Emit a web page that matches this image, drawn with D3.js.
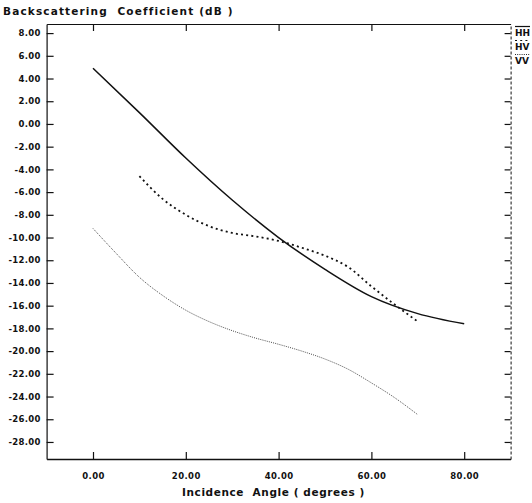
<!DOCTYPE html>
<html>
<head>
<meta charset="utf-8">
<script src="https://cdn.jsdelivr.net/npm/d3@7"></script>
<style>
  body { margin: 0; background: #fff; }
  svg text { font-family: "DejaVu Sans", "Liberation Sans", Arial, sans-serif; font-weight: bold; fill: #111; }
</style>
</head>
<body>
<div class="plot"></div>
<script>
// incidence angles (degrees) and backscattering values (dB)
const hhAngle = [0, 10, 20, 30, 40, 50, 60, 70, 80];
const hhValue = [4.9, 1.0, -3.0, -6.7, -10.0, -12.8, -15.2, -16.7, -17.6];

const hvAngle = [10, 15, 20, 25, 30, 35, 40, 45, 50, 55, 60, 65, 70];
const hvValue = [-4.6, -6.6, -8.0, -9.0, -9.6, -9.9, -10.3, -10.9, -11.6, -12.6, -14.3, -15.9, -17.4];

const vvAngle = [0, 5, 10, 15, 20, 25, 30, 35, 40, 45, 50, 55, 60, 65, 70];
const vvValue = [-9.2, -11.4, -13.5, -15.1, -16.4, -17.4, -18.2, -18.85, -19.4, -20.0, -20.7, -21.6, -22.8, -24.1, -25.6];

const xTicks = [0, 20, 40, 60, 80];
const yTicks = [8, 6, 4, 2, 0, -2, -4, -6, -8, -10, -12, -14, -16, -18, -20, -22, -24, -26, -28];
const legendNames = ['HH', 'HV', 'VV'];

const W = 532, H = 503;
const mLeft = 46.6, mRight = 510.6, mTop = 24, mBottom = 459;

const svg = d3.select('.plot')
    .append('svg')
    .attr('width', W)
    .attr('height', H);

const x = d3.scaleLinear().domain([-10, 90]).range([mLeft, mRight]);
const y = d3.scaleLinear().domain([-29.5, 8.8]).range([mBottom, mTop]);

const fmt = d3.format('.2f');
const tickLabel = v => fmt(v).replace('−', '-');

// axes, ticks pointing inward
const styleAxis = g => {
    g.select('.domain').attr('stroke', '#111').attr('stroke-width', 1.2);
    g.selectAll('.tick line').attr('stroke', '#111').attr('stroke-width', 1.2);
};

svg.append('g')
    .attr('transform', `translate(0, ${mBottom})`)
    .call(d3.axisBottom(x).tickValues(xTicks).tickSizeInner(-7).tickSizeOuter(0)
        .tickPadding(14).tickFormat(tickLabel))
    .call(styleAxis)
    .call(g => g.select('.domain').attr('stroke-width', 1.6))
    .call(g => g.selectAll('text').attr('font-size', '8.5px').attr('letter-spacing', '0.4px'));

svg.append('g')
    .attr('transform', `translate(0, ${mTop})`)
    .call(d3.axisTop(x).tickValues(xTicks).tickSizeInner(-7).tickSizeOuter(0).tickFormat(''))
    .call(styleAxis);

svg.append('g')
    .attr('transform', `translate(${mLeft}, 0)`)
    .call(d3.axisLeft(y).tickValues(yTicks).tickSizeInner(-7).tickSizeOuter(0)
        .tickPadding(6).tickFormat(tickLabel))
    .call(styleAxis)
    .call(g => g.selectAll('text').attr('font-size', '8.5px').attr('letter-spacing', '0.3px'));

svg.append('g')
    .attr('transform', `translate(${mRight}, 0)`)
    .call(d3.axisRight(y).tickValues(yTicks).tickSizeInner(-6).tickSizeOuter(0).tickFormat(''))
    .call(styleAxis)
    .call(g => g.select('.domain').attr('stroke-dasharray', '3,2').attr('stroke-width', 1));

// titles
svg.append('text')
    .attr('x', 3)
    .attr('y', 15)
    .attr('font-size', '10.5px')
    .attr('letter-spacing', '1.15px')
    .style('white-space', 'pre')
    .text('Backscattering  Coefficient (dB )');

svg.append('text')
    .attr('x', 182)
    .attr('y', 496)
    .attr('font-size', '10.5px')
    .attr('letter-spacing', '0.6px')
    .style('white-space', 'pre')
    .text('Incidence  Angle ( degrees )');

// curves
const line = d3.line()
    .x(d => x(d[0]))
    .y(d => y(d[1]))
    .curve(d3.curveMonotoneX);

const series = [
    { name: 'HH', pts: d3.zip(hhAngle, hhValue), width: 1.5, dash: null, color: '#111' },
    { name: 'HV', pts: d3.zip(hvAngle, hvValue), width: 1.8, dash: '2,3.2', color: '#111' },
    { name: 'VV', pts: d3.zip(vvAngle, vvValue), width: 0.9, dash: '1,1.2', color: '#333' }
];

svg.selectAll('path.curve')
    .data(series)
    .enter()
    .append('path')
    .attr('class', 'curve')
    .attr('d', d => line(d.pts))
    .attr('fill', 'none')
    .attr('stroke', d => d.color)
    .attr('stroke-width', d => d.width)
    .attr('stroke-dasharray', d => d.dash);

// legend: name with a line sample drawn over it
const legend = svg.selectAll('g.legend')
    .data(series)
    .enter()
    .append('g')
    .attr('class', 'legend')
    .attr('transform', (d, i) => `translate(515, ${36 + i * 14})`);

legend.append('text')
    .attr('font-size', '9px')
    .text((d, i) => legendNames[i]);

legend.append('line')
    .attr('x1', 0)
    .attr('x2', 15)
    .attr('y1', -9.5)
    .attr('y2', -9.5)
    .attr('stroke', '#111')
    .attr('stroke-width', d => Math.min(d.width, 1.2))
    .attr('stroke-dasharray', d => d.dash);
</script>
</body>
</html>
